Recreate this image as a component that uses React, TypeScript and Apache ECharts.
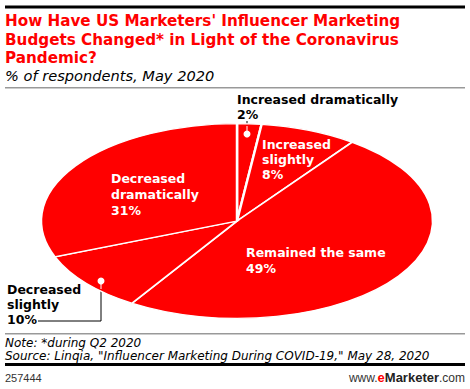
import React, { useEffect, useRef } from "react";
import * as echarts from "echarts";

const categories = [
  "Increased dramatically",
  "Increased slightly",
  "Remained the same",
  "Decreased slightly",
  "Decreased dramatically",
];
const values = [2, 8, 49, 10, 31];
// how each category label is broken onto lines
const labelLines = [
  ["Increased dramatically"],
  ["Increased", "slightly"],
  ["Remained the same"],
  ["Decreased", "slightly"],
  ["Decreased", "dramatically"],
];

const titleText = "How Have US Marketers' Influencer Marketing\nBudgets Changed* in Light of the Coronavirus\nPandemic?";
const subtitleText = "% of respondents, May 2020";
const noteText = "Note: *during Q2 2020";
const sourceText = 'Source: Linqia, "Influencer Marketing During COVID-19," May 28, 2020';
const chartId = "257444";

// layout
const CX = 237;
const CY = 221;
const RX = 196;
const RY = 97.5;
const RED = "#ff0000";
const FONT = "DejaVu Sans, Verdana, sans-serif";
const FONT2 = "Liberation Sans, Arial, sans-serif";
// label anchor (top-left), colour
const labelLayout = [
  { x: 237, y: 92, color: "#000", lh: 15 },
  { x: 262, y: 137, color: "#fff", lh: 15 },
  { x: 246, y: 244, color: "#fff", lh: 16 },
  { x: 7, y: 282, color: "#000", lh: 15 },
  { x: 111, y: 170, color: "#fff", lh: 16 },
];

export default function App() {
  const ref = useRef<HTMLDivElement>(null);
  useEffect(() => {
    if (!ref.current) return;
    const chart = echarts.init(ref.current, null, { renderer: "svg" });
    const total = values.reduce((a, b) => a + b, 0);

    const labelGraphics = values.map((v, i) => {
      const L = labelLayout[i];
      return {
        type: "text",
        x: L.x,
        y: L.y,
        z: 100,
        style: {
          text: [...labelLines[i], v + "%"].join("\n"),
          font: `bold 12.5px ${FONT}`,
          fill: L.color,
          lineHeight: L.lh,
          textVerticalAlign: "top",
        },
      };
    });

    chart.setOption({
      animation: false,
      graphic: [
        { type: "rect", shape: { x: 5, y: 5.5, width: 460, height: 3 }, style: { fill: "#000" }, z: 50 },
        {
          type: "text", x: 5, y: 12, z: 50,
          style: { text: titleText, font: `bold 15.2px ${FONT}`, fill: "#f00", lineHeight: 18.5, textVerticalAlign: "top" },
        },
        {
          type: "text", x: 5, y: 68, z: 50,
          style: { text: subtitleText, font: `italic 14.6px ${FONT}`, fill: "#000", textVerticalAlign: "top" },
        },
        { type: "rect", shape: { x: 5, y: 87, width: 460, height: 1.5 }, style: { fill: "#999" }, z: 50 },
        // leader lines (black, under the pie)
        { type: "polyline", z: 0, shape: { points: [[247, 121], [247, 134]] }, style: { stroke: "#000", lineWidth: 1, fill: null } },
        { type: "polyline", z: 0, shape: { points: [[101, 281], [101, 321], [38, 321]] }, style: { stroke: "#000", lineWidth: 1, fill: null } },
        // white parts over the pie
        { type: "polyline", z: 100, shape: { points: [[247, 126], [247, 134]] }, style: { stroke: "#fff", lineWidth: 1 } },
        { type: "circle", z: 100, shape: { cx: 247, cy: 134, r: 3.5 }, style: { fill: "#fff" } },
        { type: "polyline", z: 100, shape: { points: [[101, 281], [101, 289]] }, style: { stroke: "#fff", lineWidth: 1 } },
        { type: "circle", z: 100, shape: { cx: 101, cy: 281, r: 3.5 }, style: { fill: "#fff" } },
        ...labelGraphics,
        { type: "rect", shape: { x: 5, y: 333, width: 460, height: 1.5 }, style: { fill: "#999" }, z: 50 },
        {
          type: "text", x: 5, y: 336, z: 50,
          style: { text: noteText + "\n" + sourceText, font: `italic 12px ${FONT}`, fill: "#000", lineHeight: 13.5, textVerticalAlign: "top" },
        },
        { type: "rect", shape: { x: 5, y: 363, width: 460, height: 3 }, style: { fill: "#000" }, z: 50 },
        {
          type: "text", x: 5, y: 372, z: 50,
          style: { text: chartId, font: `11px ${FONT2}`, fill: "#333", textVerticalAlign: "top" },
        },
        {
          type: "text", x: 465, y: 371, z: 50,
          style: {
            text: "{a|www.}{b|e}{c|Marketer}{a|.com}",
            textAlign: "right",
            textVerticalAlign: "top",
            rich: {
              a: { font: `12px ${FONT2}`, fill: "#333" },
              b: { font: `bold 13px ${FONT2}`, fill: "#f00" },
              c: { font: `bold 13px ${FONT2}`, fill: "#222" },
            },
          },
        },
      ],
      series: [
        {
          type: "custom",
          coordinateSystem: "none",
          z: 2,
          data: values.map((v, i) => ({ name: categories[i], value: [v] })),
          renderItem: (params: any, api: any) => {
            const i = params.dataIndex;
            let cum = 0;
            for (let k = 0; k < i; k++) cum += values[k];
            const v = api.value(0);
            const start = -Math.PI / 2 + (cum / total) * 2 * Math.PI;
            const end = start + (v / total) * 2 * Math.PI;
            return {
              type: "sector",
              x: CX,
              y: CY,
              scaleY: RY / RX,
              shape: { cx: 0, cy: 0, r: RX, r0: 0, startAngle: start, endAngle: end, clockwise: true },
              style: { fill: RED, stroke: "#fff", lineWidth: 2.5, strokeNoScale: true },
            };
          },
        },
      ],
    });
    return () => chart.dispose();
  }, []);
  return <div ref={ref} style={{ width: 470, height: 389, position: "absolute", left: 0, top: 0 }} />;
}
